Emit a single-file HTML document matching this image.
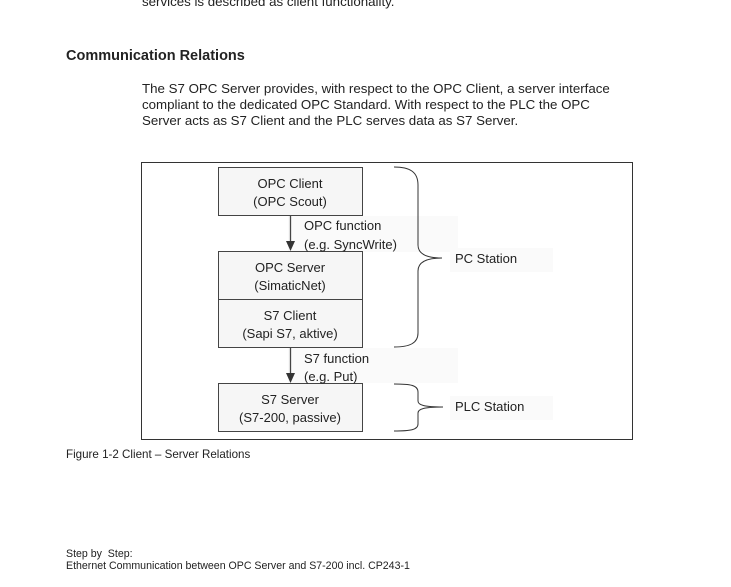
<!DOCTYPE html>
<html><head><meta charset="utf-8"><style>
body{margin:0;width:731px;height:582px;background:#fff;overflow:hidden;font-family:"Liberation Sans",Arial,sans-serif}
</style></head><body>
<svg width="731" height="582" viewBox="0 0 731 582" xmlns="http://www.w3.org/2000/svg" font-family="Liberation Sans, Arial, sans-serif" fill="#222">
<text x="142" y="6" font-size="13.3">services is described as client functionality.</text>
<text x="66" y="60" font-size="14.5" font-weight="bold">Communication Relations</text>
<text x="142" y="93" font-size="13.3">The S7 OPC Server provides, with respect to the OPC Client, a server interface</text>
<text x="142" y="109" font-size="13.3">compliant to the dedicated OPC Standard. With respect to the PLC the OPC</text>
<text x="142" y="125" font-size="13.3">Server acts as S7 Client and the PLC serves data as S7 Server.</text>

<rect x="141.5" y="162.5" width="491" height="277" fill="#fff" stroke="#333"/>
<rect x="288" y="216" width="170" height="36" fill="#fafafa"/>
<rect x="288" y="348" width="170" height="35" fill="#fafafa"/>
<rect x="450" y="248" width="103" height="24" fill="#fafafa"/>
<rect x="450" y="396" width="103" height="24" fill="#fafafa"/>

<g stroke="#444" fill="#f6f6f6">
<rect x="218.5" y="167.5" width="144" height="48"/>
<rect x="218.5" y="251.5" width="144" height="48"/>
<rect x="218.5" y="299.5" width="144" height="48"/>
<rect x="218.5" y="383.5" width="144" height="48"/>
</g>
<g stroke="#444" stroke-width="1.3">
<line x1="290.5" y1="216" x2="290.5" y2="243"/>
<line x1="290.5" y1="348" x2="290.5" y2="375"/>
</g>
<polygon points="286,241 295,241 290.5,251" fill="#333"/>
<polygon points="286,373 295,373 290.5,383" fill="#333"/>

<g font-size="13" text-anchor="middle">
<text x="290" y="188">OPC Client</text><text x="290" y="206">(OPC Scout)</text>
<text x="290" y="272">OPC Server</text><text x="290" y="290">(SimaticNet)</text>
<text x="290" y="320">S7 Client</text><text x="290" y="338">(Sapi S7, aktive)</text>
<text x="290" y="404">S7 Server</text><text x="290" y="422">(S7-200, passive)</text>
</g>
<g font-size="13">
<text x="304" y="230">OPC function</text><text x="304" y="249">(e.g. SyncWrite)</text>
<text x="304" y="363">S7 function</text><text x="304" y="381">(e.g. Put)</text>
<text x="455" y="263">PC Station</text>
<text x="455" y="411">PLC Station</text>
</g>

<g fill="none" stroke="#333" stroke-width="1">
<path d="M394 167 C410 167 418 172 418 185 L418 245 C418 254 426 258 442 258 C426 258 418 262 418 271 L418 333 C418 343 410 347 394 347"/>
<path d="M394 384 C410 384 418 385 418 392 L418 401 C418 405 424 407 443 407 C424 407 418 409 418 413 L418 424 C418 430 410 431 394 431"/>
</g>

<text x="66" y="458" font-size="11.6">Figure 1-2 Client – Server Relations</text>
<text x="66" y="557" font-size="10.6" xml:space="preserve">Step by  Step:</text>
<text x="66" y="569" font-size="10.6">Ethernet Communication between OPC Server and S7-200 incl. CP243-1</text>
</svg>
</body></html>
